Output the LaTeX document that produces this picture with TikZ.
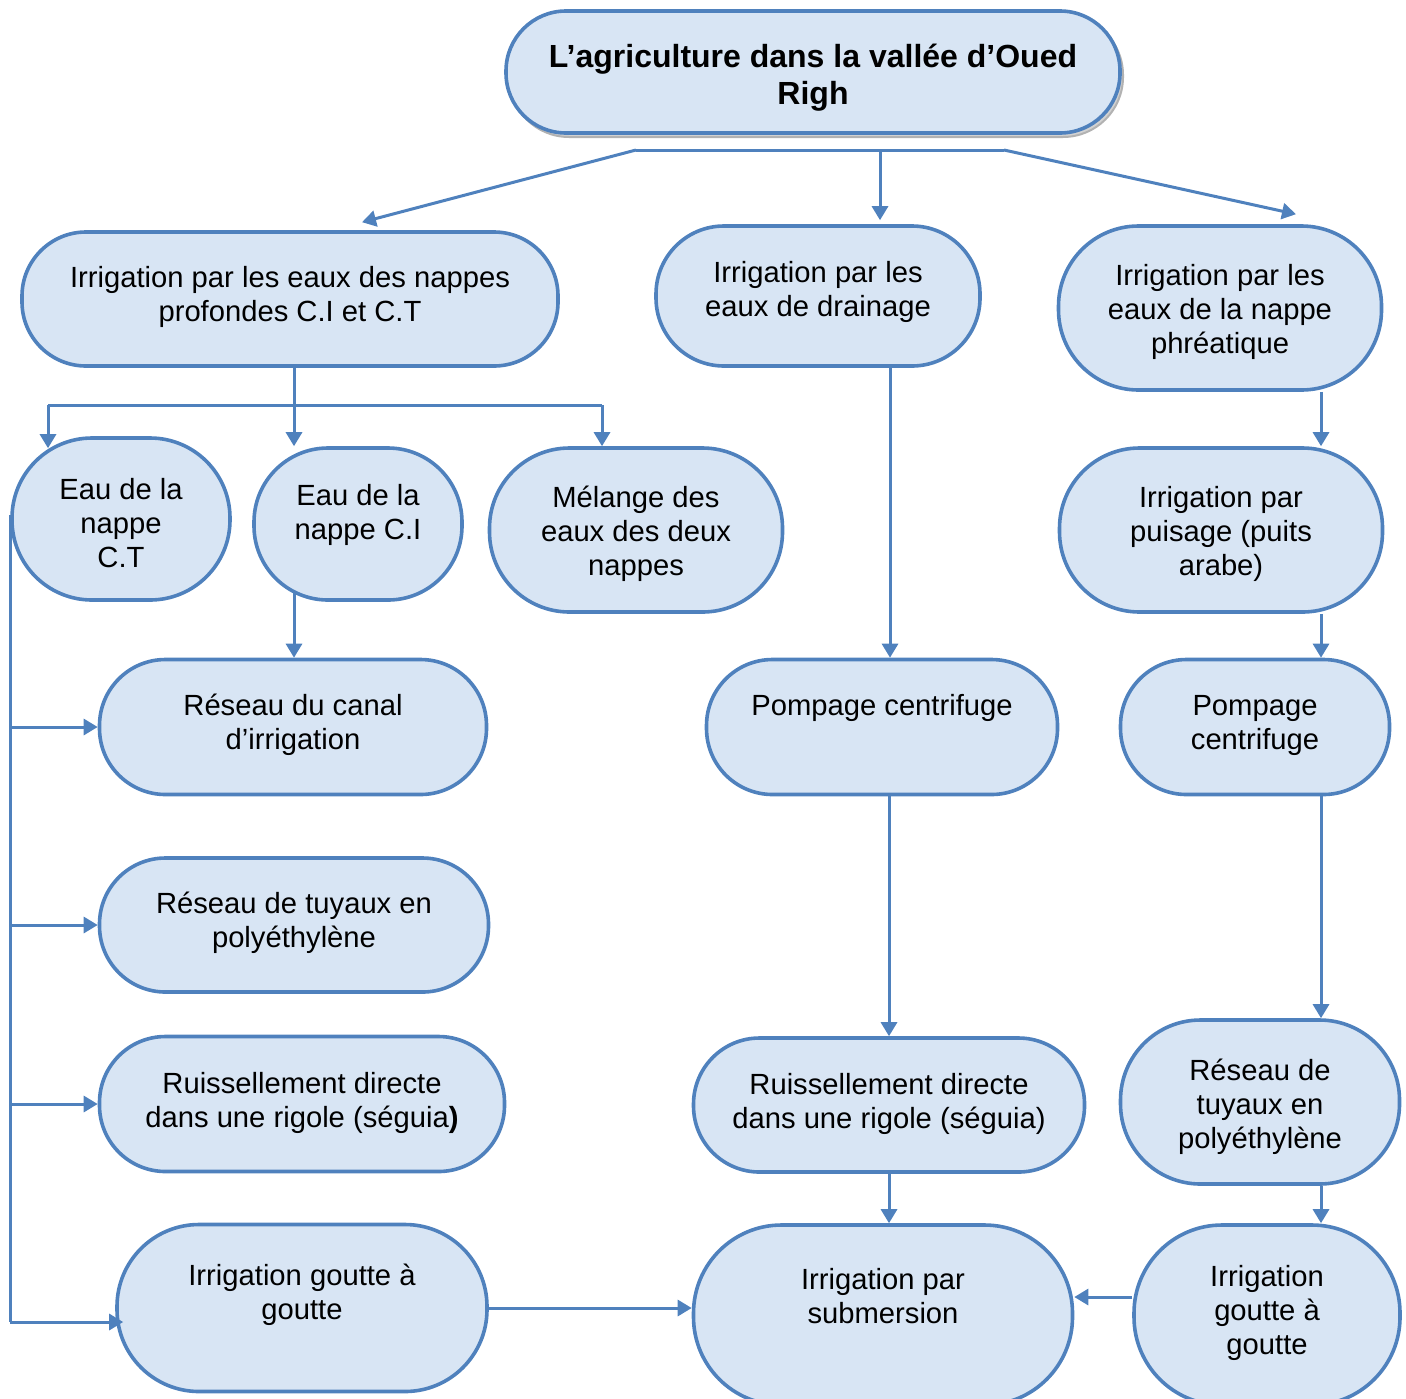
\documentclass[tikz,border=0pt]{standalone}
\usepackage{fontspec}
\setmainfont{Liberation Sans}
\usetikzlibrary{arrows.meta,calc,shadows}
\definecolor{bordc}{RGB}{79,129,189}
\definecolor{fillc}{RGB}{216,229,244}
\newcommand\mybox[7][]{\node[box,#1,minimum width=#5pt,minimum height=#6pt,rounded corners=#7pt] (#2) at (#3,#4) {};}
\begin{document}
\begin{tikzpicture}[x=0.5pt,y=-0.5pt,
 box/.style={draw=bordc,line width=1.8pt,fill=fillc,inner sep=0pt,shape=rectangle},
 txt/.style={font=\fontsize{14.6}{17}\selectfont,align=center,inner sep=0pt,text=black},
 conn/.style={draw=bordc,line width=1.5pt},
 arr/.style={conn,-{Triangle[length=7pt,width=8pt]}}]
\useasboundingbox (0,0) rectangle (1406,1398);
% boxes
\mybox[copy shadow={shadow xshift=1.5pt,shadow yshift=-2pt,draw=gray!60,fill=gray!35,line width=1pt}]{T}{813}{72}{307}{61}{30}
\mybox{A}{290}{299}{268}{67}{32}
\mybox{B}{818}{296}{162}{70}{34}
\mybox{C}{1220}{308}{161.5}{82}{40}
\mybox{D}{121}{519}{109}{81}{40}
\mybox{E}{358}{524}{104}{76}{37}
\mybox{F}{636}{530}{146.5}{82}{40}
\mybox{G}{1221}{530}{161.5}{82}{40}
\mybox{H}{293}{727}{193.5}{67.5}{33}
\mybox{I}{882}{727}{175.5}{67.5}{33}
\mybox{J}{1255}{727}{134.5}{67.5}{33}
\mybox{K}{294}{925}{194.5}{67}{33}
\mybox{L}{302}{1104}{202.5}{67.5}{33}
\mybox{M}{889}{1105}{195.5}{67}{33}
\mybox{N}{1260}{1102}{139.5}{82}{40}
\mybox{O}{302}{1308}{185}{83.5}{41}
\mybox{P}{883}{1315}{189.5}{90}{44}
\mybox{Q}{1267}{1315}{133}{90}{44}
% texts
\node[txt,font=\bfseries\fontsize{16}{18.5}\selectfont] (tT) at (813,78) {L’agriculture dans la vallée d’Oued\\Righ};
\node[txt] (tA) at (290,297) {Irrigation par les eaux des nappes\\profondes C.I et C.T};
\node[txt] (tB) at (818,292) {Irrigation par les\\eaux de drainage};
\node[txt] (tC) at (1220,312) {Irrigation par les\\eaux de la nappe\\phréatique};
\node[txt] (tD) at (121,523) {Eau de la\\nappe\\C.T};
\node[txt] (tE) at (358,515) {Eau de la\\nappe C.I};
\node[txt] (tF) at (636,534) {Mélange des\\eaux des deux\\nappes};
\node[txt] (tG) at (1221,534) {Irrigation par\\puisage (puits\\arabe)};
\node[txt] (tH) at (293,725) {Réseau du canal\\d’irrigation};
\node[txt] (tI) at (882,708) {Pompage centrifuge};
\node[txt] (tJ) at (1255,725) {Pompage\\centrifuge};
\node[txt] (tK) at (294,923) {Réseau de tuyaux en\\polyéthylène};
\node[txt] (tL) at (302,1103) {Ruissellement directe\\dans une rigole (séguia\textbf{)}};
\node[txt] (tM) at (889,1104) {Ruissellement directe\\dans une rigole (séguia)};
\node[txt] (tN) at (1260,1107) {Réseau de\\tuyaux en\\polyéthylène};
\node[txt] (tO) at (302,1295) {Irrigation goutte à\\goutte};
\node[txt] (tP) at (883,1296) {Irrigation par\\submersion};
\node[txt] (tQ) at (1267,1313) {Irrigation\\goutte à\\goutte};
% junction coordinates
\coordinate (bL) at (636,150);
\coordinate (bM) at (880,150);
\coordinate (bR) at (1004,150);
\coordinate (jA) at (294,405);
\coordinate (jL) at (48,405);
\coordinate (jR) at (602,405);
\coordinate (lt) at (10,515);
\coordinate (lb) at (10,1322);
\coordinate (xm) at (890,0);
\coordinate (xr) at (1321,0);
\coordinate (qy) at (0,1297);
% connectors
\draw[conn] (bL) -- (bR);
\draw[arr] (bL) -- ($(A.north)+(72,-8)$);
\draw[arr] (bM) -- ($(B.north)+(62,-4)$);
\draw[arr] (bR) -- ($(C.north)+(76,-10)$);
\draw[arr] (jA |- A.south) -- (jA |- E.north);
\draw[conn] (jL) -- (jR);
\draw[arr] (jL) -- ($(jL |- D.north)+(0,12)$);
\draw[arr] (jR) -- (jR |- F.north);
\draw[arr] ($(jA |- E.south)+(0,-10)$) -- (jA |- H.north);
\draw[conn] (lt) -- (lb);
\draw[arr] (lt |- H.west) -- (H.west);
\draw[arr] (lt |- K.west) -- (K.west);
\draw[arr] (lt |- L.west) -- (L.west);
\draw[arr] (lb) -- ($(O.west)+(8,14)$);
\draw[arr] (xm |- B.south) -- (xm |- I.north);
\draw[arr] (M.north |- I.south) -- (M.north);
\draw[arr] (M.south) -- (M.south |- P.north);
\draw[arr] (O.east) -- (O.east -| P.west);
\draw[arr] (Q.west |- qy) -- (P.east |- qy);
\draw[arr] (xr |- C.south) -- (xr |- G.north);
\draw[arr] (xr |- G.south) -- (xr |- J.north);
\draw[arr] (xr |- J.south) -- (xr |- N.north);
\draw[arr] (xr |- N.south) -- (xr |- Q.north);
\end{tikzpicture}
\end{document}
